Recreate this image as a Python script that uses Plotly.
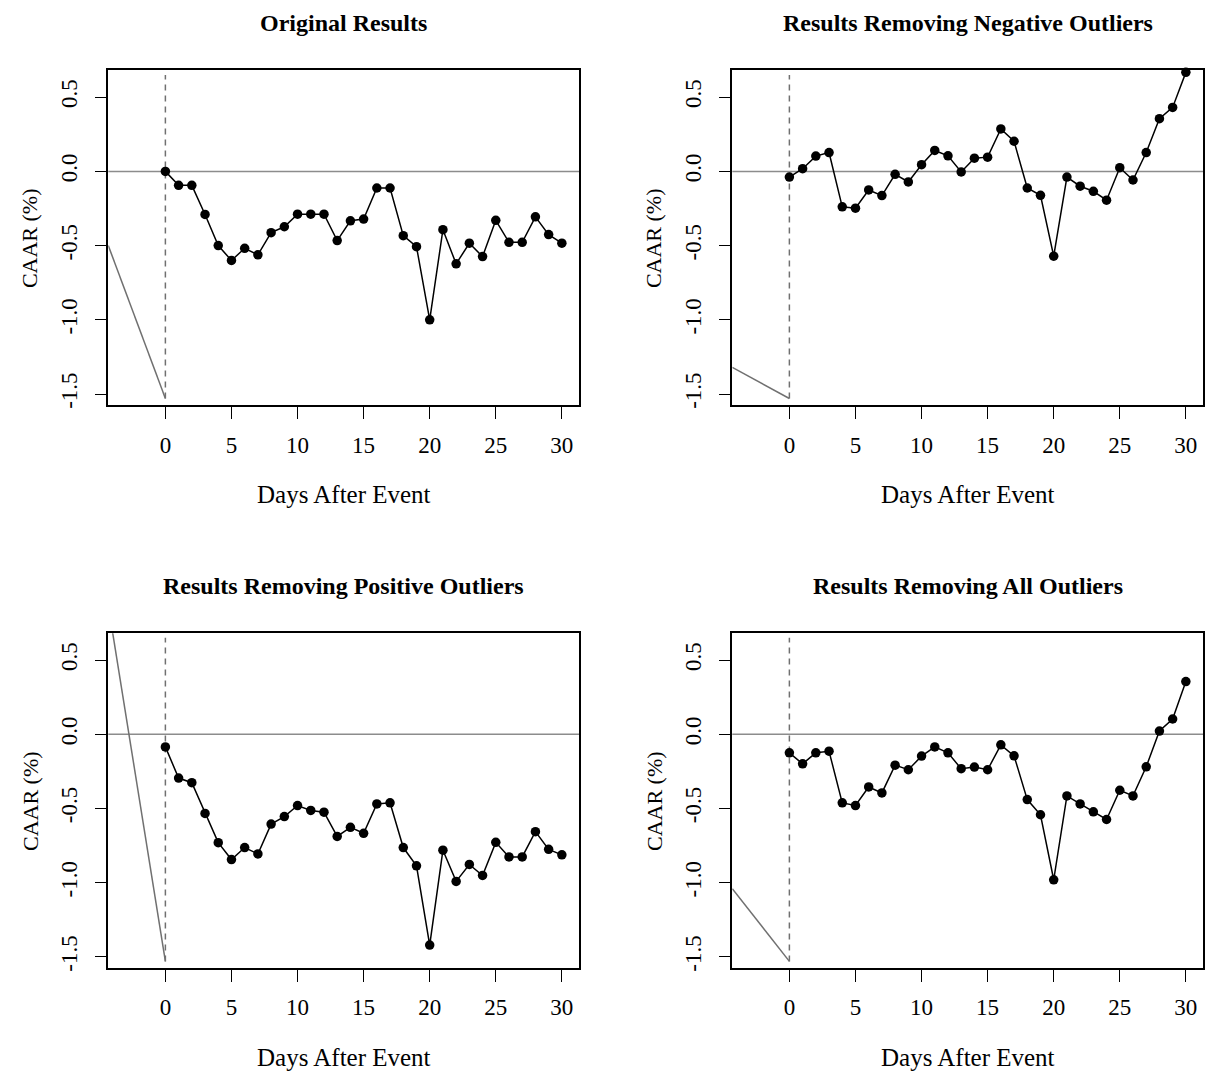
import plotly.graph_objects as go

days = list(range(0, 31))

titles = ["Original Results", "Results Removing Negative Outliers",
          "Results Removing Positive Outliers", "Results Removing All Outliers"]

caar_original = [0.0, -0.094, -0.094, -0.29, -0.50, -0.60, -0.518, -0.562, -0.413, -0.373,
                 -0.288, -0.288, -0.288, -0.466, -0.333, -0.321, -0.112, -0.112, -0.433, -0.507,
                 -1.0, -0.393, -0.623, -0.484, -0.574, -0.330, -0.478, -0.478, -0.306, -0.426, -0.484]

caar_no_negative = [-0.038, 0.018, 0.103, 0.127, -0.239, -0.248, -0.125, -0.163, -0.020, -0.071,
                    0.045, 0.141, 0.105, -0.004, 0.089, 0.096, 0.286, 0.203, -0.112, -0.161,
                    -0.571, -0.038, -0.100, -0.134, -0.194, 0.025, -0.058, 0.127, 0.355, 0.431, 0.667]

caar_no_positive = [-0.085, -0.295, -0.326, -0.533, -0.730, -0.844, -0.763, -0.806, -0.605, -0.554,
                    -0.480, -0.513, -0.525, -0.688, -0.627, -0.667, -0.469, -0.462, -0.763, -0.886,
                    -1.42, -0.781, -0.991, -0.877, -0.951, -0.728, -0.826, -0.826, -0.656, -0.775, -0.812]

caar_no_outliers = [-0.125, -0.199, -0.125, -0.114, -0.462, -0.480, -0.355, -0.395, -0.208, -0.239,
                    -0.147, -0.085, -0.125, -0.232, -0.221, -0.239, -0.071, -0.145, -0.440, -0.542,
                    -0.980, -0.415, -0.469, -0.522, -0.574, -0.377, -0.415, -0.219, 0.022, 0.103, 0.355]

series = [caar_original, caar_no_negative, caar_no_positive, caar_no_outliers]

# stray grey segment ending at the bottom of the event-day marker line
lead_x = [-4.32, 0]
lead_y = [[-0.50, -1.53], [-1.32, -1.53], [0.867, -1.53], [-1.04, -1.53]]
event_x = [0, 0]
event_y = [-1.53, 0.65]
zero_y = [0, 0]
zero_x = [-10, 40]

x_ticks = [0, 5, 10, 15, 20, 25, 30]
y_ticks = [-1.5, -1.0, -0.5, 0.0, 0.5]
y_ticktext = ["-1.5", "-1.0", "-0.5", "0.0", "0.5"]

W, H = 1207, 1077
FONT = "Liberation Serif"

# panel boxes in pixels (left, right, top, bottom)
boxes = [(108.3, 579.3, 70.7, 406.7), (732.3, 1203.3, 70.7, 406.7),
         (108.3, 579.3, 635.7, 971.7), (732.3, 1203.3, 635.7, 971.7)]

fig = go.Figure()
layout = dict(width=W, height=H, margin=dict(l=0, r=0, t=0, b=0),
              paper_bgcolor="white", plot_bgcolor="white", showlegend=False,
              font=dict(family=FONT, color="black", size=21))
annotations = []

for i, (ys, title, box) in enumerate(zip(series, titles, boxes)):
    n = "" if i == 0 else str(i + 1)
    xa, ya = "x" + n, "y" + n
    l, r, t, b = box
    fig.add_trace(go.Scatter(x=zero_x, y=zero_y, mode="lines", xaxis=xa, yaxis=ya,
                             line=dict(color="#8c8c8c", width=1.5), hoverinfo="skip"))
    fig.add_trace(go.Scatter(x=lead_x, y=lead_y[i], mode="lines", xaxis=xa, yaxis=ya,
                             line=dict(color="#707070", width=1.5), hoverinfo="skip"))
    fig.add_trace(go.Scatter(x=event_x, y=event_y, mode="lines", xaxis=xa, yaxis=ya,
                             line=dict(color="#707070", width=1.5, dash="6px,5px"), hoverinfo="skip"))
    fig.add_trace(go.Scatter(x=days, y=ys, mode="lines+markers", xaxis=xa, yaxis=ya,
                             line=dict(color="black", width=1.5),
                             marker=dict(color="black", size=9.5, symbol="circle"),
                             cliponaxis=False))
    axcommon = dict(showline=True, mirror=True, linecolor="black", linewidth=1.5,
                    ticks="outside", ticklen=12, tickwidth=1.2, tickcolor="black",
                    showgrid=False, zeroline=False)
    layout["xaxis" + n] = dict(axcommon, domain=[l / W, r / W], range=[-4.32, 31.32],
                               tickvals=x_ticks, anchor=ya, ticklabelstandoff=6,
                               tickfont=dict(family=FONT, size=23, color="black"))
    layout["yaxis" + n] = dict(axcommon, domain=[1 - b / H, 1 - t / H], range=[-1.575, 0.68],
                               tickvals=y_ticks, ticktext=y_ticktext, tickangle=-90, anchor=xa,
                               ticklabelstandoff=8,
                               tickfont=dict(family=FONT, size=23, color="black"))
    cx = (l + r) / 2
    annotations.append(dict(text="<b>" + title + "</b>", x=cx / W, y=1 - (t - 48) / H,
                            xref="paper", yref="paper", showarrow=False,
                            font=dict(family=FONT, size=24, color="black"),
                            xanchor="center", yanchor="middle"))
    annotations.append(dict(text="Days After Event", x=cx / W, y=1 - (b + 90) / H,
                            xref="paper", yref="paper", showarrow=False,
                            font=dict(family=FONT, size=25, color="black"),
                            xanchor="center", yanchor="middle"))
    annotations.append(dict(text="CAAR (%)", x=(l - 78) / W, y=1 - ((t + b) / 2) / H,
                            xref="paper", yref="paper", showarrow=False, textangle=-90,
                            font=dict(family=FONT, size=22, color="black"),
                            xanchor="center", yanchor="middle"))

layout["annotations"] = annotations
fig.update_layout(**layout)
fig.write_html("out.html")
